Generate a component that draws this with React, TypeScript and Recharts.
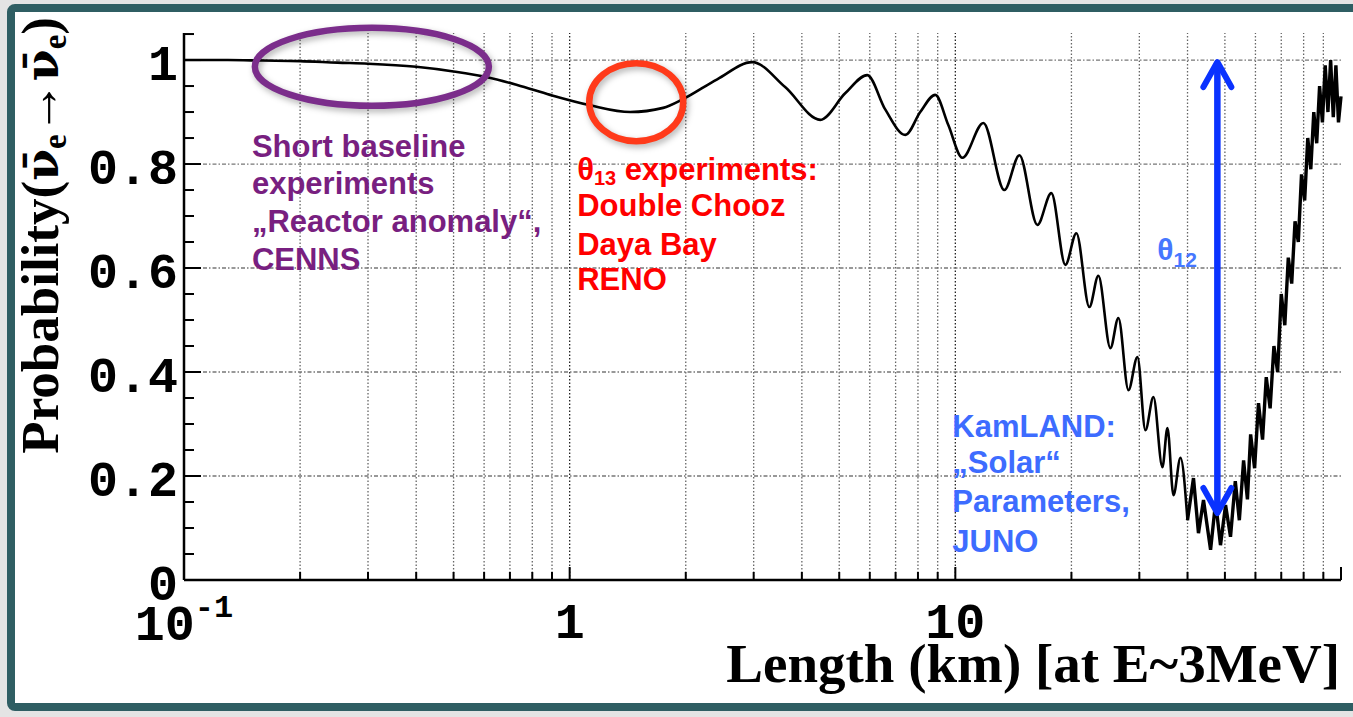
import React from 'react';
import { LineChart, Line, XAxis, YAxis, ReferenceLine, ReferenceDot } from 'recharts';

// baseline L (km) and survival probability
const lengthKm = [
  0.1, 0.13, 0.16, 0.2, 0.25, 0.3, 0.4, 0.5, 0.611, 0.731, 0.89, 1.13, 1.435, 1.748, 1.97,
  2.413, 2.975, 3.62, 4.466, 5.18, 5.91, 6.58, 7.42, 8.11, 8.87, 9.59, 10.43, 11.82, 13.4,
  14.66, 16.32, 17.74, 19.29, 20.6, 22.26, 23.49, 25.24, 26.47, 28.11, 29.66, 31.11, 32.63,
  34.43, 35.48, 36.78, 38.35, 39.99, 41.45, 42.7, 44.0, 45.9, 47.3, 48.7, 50.2, 51.7, 53.2,
  54.5, 55.9, 57.2, 58.3, 59.7, 61.1, 62.6, 64, 65.5, 67, 68.5, 70, 71.5, 73, 74.5, 76, 77.5,
  79, 80.5, 82, 83.5, 85, 86.5, 88, 89.5, 91, 92.5, 94, 95.5, 97, 98.5, 100,
];
const survivalProb = [
  1.0, 1.0, 0.999, 0.998, 0.995, 0.993, 0.987, 0.978, 0.967, 0.952, 0.933, 0.913, 0.9, 0.908, 0.925,
  0.963, 0.996, 0.948, 0.885, 0.936, 0.971, 0.905, 0.856, 0.9, 0.933, 0.875, 0.812, 0.879, 0.75,
  0.817, 0.683, 0.744, 0.606, 0.667, 0.525, 0.585, 0.446, 0.504, 0.365, 0.429, 0.288, 0.352,
  0.217, 0.292, 0.163, 0.235, 0.115, 0.196, 0.09, 0.154, 0.058, 0.15, 0.067, 0.144, 0.083, 0.19,
  0.115, 0.23, 0.155, 0.28, 0.215, 0.34, 0.27, 0.39, 0.33, 0.45, 0.4, 0.55, 0.49, 0.62, 0.57, 0.69, 0.65,
  0.78, 0.73, 0.85, 0.79, 0.9, 0.84, 0.95, 0.88, 0.99, 0.9, 1.0, 0.89, 0.99, 0.88, 0.93,
];
// beyond this baseline the plotted curve turns into a jagged band
const denseFromKm = 39.99;

const xTicks = [
  0.1, 0.2, 0.3, 0.4, 0.5, 0.6, 0.7, 0.8, 0.9, 1, 2, 3, 4, 5, 6, 7, 8, 9,
  10, 20, 30, 40, 50, 60, 70, 80, 90, 100,
];
const xMajor = [0.1, 1, 10, 100];
const xGrid = [0.2, 0.3, 0.4, 0.5, 0.6, 0.7, 0.8, 0.9, 1, 2, 3, 4, 5, 6, 7, 8, 9, 10, 20, 30, 40, 50, 60, 70, 80, 90];
const yTicks = [
  0, 0.05, 0.1, 0.15, 0.2, 0.25, 0.3, 0.35, 0.4, 0.45, 0.5, 0.55, 0.6, 0.65, 0.7, 0.75,
  0.8, 0.85, 0.9, 0.95, 1, 1.05,
];
const yMajor = [0, 0.2, 0.4, 0.6, 0.8, 1];
const yLabels = ['0', '0.2', '0.4', '0.6', '0.8', '1'];

const purpleLines = ['Short baseline', 'experiments', '\u201EReactor anomaly\u201C,', 'CENNS'];
const redLines = ['Double Chooz', 'Daya Bay', 'RENO'];
const blueLines = ['KamLAND:', '\u201ESolar\u201C', 'Parameters,', 'JUNO'];

const data = lengthKm.map((L, i) => ({
  L,
  P: L <= denseFromKm ? survivalProb[i] : null,
  Pd: L >= denseFromKm ? survivalProb[i] : null,
}));

const MONO = '"Liberation Mono", "Courier New", monospace';
const SERIF = '"Liberation Serif", "Times New Roman", serif';
const SANS = '"Liberation Sans", Arial, sans-serif';

const near = (a: number, list: number[]) => list.some((b) => Math.abs(a - b) < 1e-6);

const BottomTick = ({ x, y, payload }: any) => {
  const v = payload.value;
  const major = near(v, xMajor);
  let label: React.ReactNode = null;
  if (v === 0.1) {
    label = (
      <text x={x} y={y + 60} textAnchor="middle" fontFamily={MONO} fontWeight="bold" fontSize={50} fill="#000">
        10<tspan dy={-23} fontSize={32}>-1</tspan>
      </text>
    );
  } else if (v === 1 || v === 10) {
    label = (
      <text x={x} y={y + 58} textAnchor="middle" fontFamily={MONO} fontWeight="bold" fontSize={50} fill="#000">
        {String(v)}
      </text>
    );
  }
  return (
    <g>
      <line x1={x} x2={x} y1={y} y2={y - (major ? 13 : 8)} stroke="#000" strokeWidth={2} />
      {label}
    </g>
  );
};

const TopTick = ({ x, y, payload }: any) => {
  const major = near(payload.value, xMajor);
  return <line x1={x} x2={x} y1={y} y2={y + (major ? 13 : 8)} stroke="#000" strokeWidth={2} />;
};

const LeftTick = ({ x, y, payload }: any) => {
  const v = payload.value;
  const idx = yMajor.findIndex((m) => Math.abs(m - v) < 1e-6);
  return (
    <g>
      <line x1={x} x2={x + (idx >= 0 ? 17 : 10)} y1={y} y2={y} stroke="#000" strokeWidth={2} />
      {idx >= 0 && (
        <text x={x - 6} y={y + 20} textAnchor="end" fontFamily={MONO} fontWeight="bold" fontSize={50} fill="#000">
          {yLabels[idx]}
        </text>
      )}
    </g>
  );
};

const RightTick = ({ x, y, payload }: any) => {
  const major = near(payload.value, yMajor);
  return <line x1={x} x2={x - (major ? 17 : 10)} y1={y} y2={y} stroke="#000" strokeWidth={2} />;
};

const NU_BAR = 'ν\u0304';

const YTitle = ({ viewBox }: any) => {
  const cx = viewBox.x + 58;
  const cy = viewBox.y + viewBox.height * 0.37;
  return (
    <text
      transform={`rotate(-90 ${cx} ${cy})`}
      x={cx}
      y={cy}
      textAnchor="middle"
      fontFamily={SERIF}
      fontWeight="bold"
      fontSize={53}
      fill="#000"
    >
      Probability(
      <tspan fontFamily='"DejaVu Serif", serif' fontSize={46}>{NU_BAR}</tspan>
      <tspan dy={8} fontSize={33}>e</tspan>
      <tspan dy={-8}>→</tspan>
      <tspan fontFamily='"DejaVu Serif", serif' fontSize={46}>{NU_BAR}</tspan>
      <tspan dy={8} fontSize={33}>e</tspan>
      <tspan dy={-8}>)</tspan>
    </text>
  );
};

const XTitle = ({ viewBox }: any) => (
  <text
    x={viewBox.x + viewBox.width - 1}
    y={viewBox.y + 102}
    textAnchor="end"
    fontFamily={SERIF}
    fontWeight="bold"
    fontSize={55}
    fill="#000"
  >
    Length (km) [at E~3MeV]
  </text>
);

const shadow = { filter: 'drop-shadow(2px 3px 3px rgba(0,0,0,0.3))' };

const ellipseShape = (rx: number, ry: number, color: string) => (props: any) => (
  <ellipse cx={props.cx} cy={props.cy} rx={rx} ry={ry} fill="none" stroke={color} strokeWidth={6.5} style={shadow} />
);

const textBlock = (lines: string[], offsets: number[], color: string) => (props: any) => (
  <g>
    {lines.map((t, i) => (
      <text key={t} x={props.cx} y={props.cy + offsets[i]} fontFamily={SANS} fontWeight="bold" fontSize={31} fill={color}>
        {t}
      </text>
    ))}
  </g>
);

const redBlock = (props: any) => (
  <g>
    <text x={props.cx} y={props.cy} fontFamily={SANS} fontWeight="bold" fontSize={31} fill="#ff0000">
      θ<tspan fontSize={20} dy={5}>13</tspan>
      <tspan dy={-5}> experiments:</tspan>
    </text>
    {redLines.map((t, i) => (
      <text key={t} x={props.cx} y={props.cy + [36, 75, 110][i]} fontFamily={SANS} fontWeight="bold" fontSize={31} fill="#ff0000">
        {t}
      </text>
    ))}
  </g>
);

const thetaBlock = (props: any) => (
  <text x={props.cx} y={props.cy} fontFamily={SANS} fontWeight="bold" fontSize={30} fill="#4677ff">
    θ<tspan fontSize={21} dy={7}>12</tspan>
  </text>
);

const upHead = (props: any) => (
  <polyline
    points={`${props.cx - 14},${props.cy + 27} ${props.cx},${props.cy + 2} ${props.cx + 14},${props.cy + 27}`}
    fill="none"
    stroke="#0a32ff"
    strokeWidth={6}
    strokeLinecap="round"
    strokeLinejoin="round"
  />
);

const downHead = (props: any) => (
  <polyline
    points={`${props.cx - 14},${props.cy - 27} ${props.cx},${props.cy - 2} ${props.cx + 14},${props.cy - 27}`}
    fill="none"
    stroke="#0a32ff"
    strokeWidth={6}
    strokeLinecap="round"
    strokeLinejoin="round"
  />
);

const ax = { xAxisId: 'bottom', yAxisId: 'left' };

const App = () => {
  return (
    <div style={{ position: 'absolute', left: 0, top: 0, width: 1353, height: 717, background: '#e4e4e4', overflow: 'hidden' }}>
      <div
        style={{
          position: 'absolute',
          left: 7,
          top: 4,
          width: 1360,
          height: 707,
          boxSizing: 'border-box',
          border: '8px solid #2f5e63',
          borderRadius: 8,
          background: '#fff',
        }}
      />
      <div style={{ position: 'absolute', left: 0, top: 0 }}>
        <LineChart width={1353} height={717} data={data} margin={{ top: 33, right: 12, bottom: 0, left: 0 }}>
          <XAxis
            xAxisId="bottom"
            dataKey="L"
            type="number"
            scale="log"
            domain={[0.1, 100]}
            ticks={xTicks}
            interval={0}
            height={137}
            tickSize={0}
            tickMargin={0}
            tickLine={false}
            axisLine={{ stroke: '#000', strokeWidth: 2.5 }}
            tick={BottomTick}
            label={{ content: XTitle }}
          />
          <XAxis
            xAxisId="top"
            orientation="top"
            dataKey="L"
            type="number"
            scale="log"
            domain={[0.1, 100]}
            ticks={xTicks}
            interval={0}
            height={0}
            tickSize={0}
            tickMargin={0}
            tickLine={false}
            axisLine={{ stroke: '#000', strokeWidth: 3 }}
            tick={TopTick}
          />
          <YAxis
            yAxisId="left"
            type="number"
            domain={[0, 1.052]}
            ticks={yTicks}
            interval={0}
            width={184}
            tickSize={0}
            tickMargin={0}
            tickLine={false}
            axisLine={{ stroke: '#000', strokeWidth: 2.5 }}
            tick={LeftTick}
            label={{ content: YTitle }}
          />
          <YAxis
            yAxisId="right"
            orientation="right"
            type="number"
            domain={[0, 1.052]}
            ticks={yTicks}
            interval={0}
            width={0}
            tickSize={0}
            tickMargin={0}
            tickLine={false}
            axisLine={{ stroke: '#000', strokeWidth: 3 }}
            tick={RightTick}
          />

          {xGrid.map((v) => (
            <ReferenceLine
              key={`gx${v}`}
              {...ax}
              x={v}
              stroke={v === 1 || v === 10 ? '#222' : '#666'}
              strokeWidth={1.3}
              strokeDasharray="1.5 2"
            />
          ))}
          {yMajor.slice(1).map((v) => (
            <ReferenceLine key={`gy${v}`} {...ax} y={v} stroke="#777" strokeWidth={1.3} strokeDasharray="4 2 1.5 2" />
          ))}

          <Line
            {...ax}
            dataKey="P"
            type="monotone"
            stroke="#000"
            strokeWidth={2.6}
            dot={false}
            connectNulls={false}
            isAnimationActive={false}
          />
          <Line
            {...ax}
            dataKey="Pd"
            type="linear"
            stroke="#000"
            strokeWidth={3.4}
            strokeLinejoin="miter"
            dot={false}
            connectNulls={false}
            isAnimationActive={false}
          />

          <ReferenceDot {...ax} x={0.307} y={0.987} r={1} shape={ellipseShape(117, 39, '#7b2d8b')} />
          <ReferenceDot {...ax} x={1.488} y={0.919} r={1} shape={ellipseShape(47, 39, '#ff3a1a')} />

          <ReferenceLine
            {...ax}
            segment={[{ x: 47.8, y: 0.13 }, { x: 47.8, y: 0.995 }]}
            stroke="#0a32ff"
            strokeWidth={6.5}
          />
          <ReferenceDot {...ax} x={47.8} y={1.0} r={1} shape={upHead} />
          <ReferenceDot {...ax} x={47.8} y={0.125} r={1} shape={downHead} />

          <ReferenceDot {...ax} x={0.15} y={0.8135} r={1} shape={textBlock(purpleLines, [0, 37, 75, 113], '#781f80')} />
          <ReferenceDot {...ax} x={1.046} y={0.769} r={1} shape={redBlock} />
          <ReferenceDot {...ax} x={9.82} y={0.275} r={1} shape={textBlock(blueLines, [0, 36, 75, 115], '#3d6cff')} />
          <ReferenceDot {...ax} x={33.4} y={0.615} r={1} shape={thetaBlock} />
        </LineChart>
      </div>
    </div>
  );
};

export default App;
